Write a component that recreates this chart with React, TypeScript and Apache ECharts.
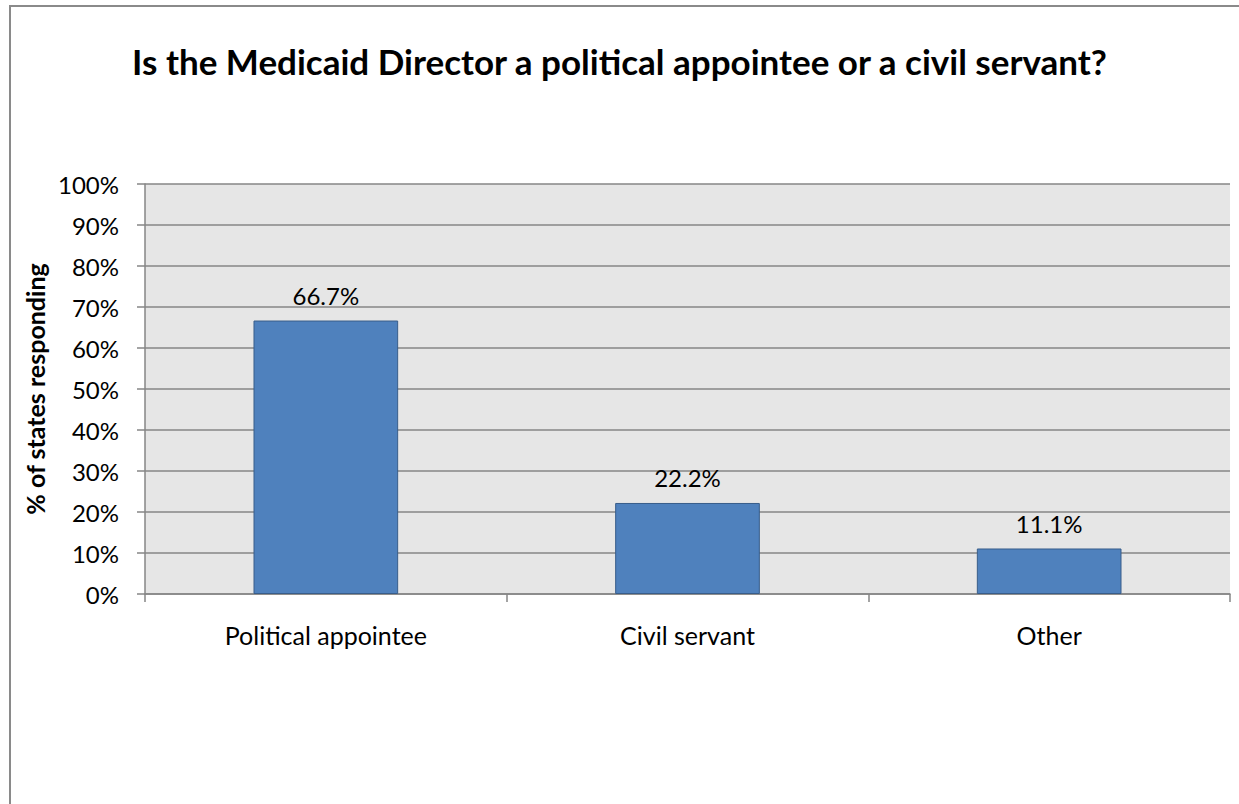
import React, { useEffect, useRef } from "react";
import * as echarts from "echarts";

const categories = ["Political appointee", "Civil servant", "Other"];
const values = [66.7, 22.2, 11.1];
const yTicks = [0, 10, 20, 30, 40, 50, 60, 70, 80, 90, 100];
const titleText = "Is the Medicaid Director a political appointee or a civil servant?";
const yAxisName = "% of states responding";

const FONT = "Lato, 'Open Sans', sans-serif";

export default function App() {
  const ref = useRef<HTMLDivElement>(null);
  useEffect(() => {
    const chart = echarts.init(ref.current!, null, { renderer: "svg" });
    chart.setOption({
      animation: false,
      backgroundColor: "#ffffff",
      graphic: [
        {
          type: "rect",
          shape: { x: 10, y: 6, width: 1300, height: 900 },
          style: { fill: "none", stroke: "#8a8a8a", lineWidth: 2 },
          silent: true,
        },
      ],
      title: {
        text: titleText,
        left: "center",
        top: 38,
        textStyle: { fontFamily: FONT, fontSize: 35, fontWeight: "bold", color: "#000" },
      },
      grid: { left: 145, top: 184, right: 9, bottom: 210, backgroundColor: "#e6e6e6", show: true, borderWidth: 0 },
      xAxis: {
        type: "category",
        data: categories,
        axisLine: { show: true, lineStyle: { color: "#868686", width: 1.5 } },
        axisTick: { show: true, length: 8, lineStyle: { color: "#868686", width: 1.5 } },
        axisLabel: { fontFamily: FONT, fontSize: 25, color: "#000", margin: 28 },
      },
      yAxis: {
        type: "value",
        min: 0,
        max: 100,
        interval: 10,
        name: yAxisName,
        nameLocation: "middle",
        nameGap: 93,
        nameTextStyle: { fontFamily: FONT, fontSize: 25, fontWeight: "bold", color: "#000" },
        axisLine: { show: true, lineStyle: { color: "#868686", width: 1.5 } },
        axisTick: { show: true, length: 8, lineStyle: { color: "#868686", width: 1.5 } },
        splitLine: { show: true, lineStyle: { color: "#868686", width: 1.5 } },
        axisLabel: {
          fontFamily: FONT,
          fontSize: 24,
          color: "#000",
          margin: 26,
          formatter: (v: number) => (yTicks.includes(v) ? v + "%" : ""),
        },
      },
      series: [
        {
          type: "bar",
          data: values,
          barWidth: "40%",
          itemStyle: { color: "#4f81bd", borderColor: "#385d8a", borderWidth: 1 },
          label: {
            show: true,
            position: "top",
            distance: 13,
            fontFamily: FONT,
            fontSize: 24,
            color: "#000",
            formatter: (p: any) => p.value.toFixed(1) + "%",
          },
        },
      ],
    });
    return () => chart.dispose();
  }, []);
  return <div ref={ref} style={{ width: 1239, height: 804, position: "absolute", left: 0, top: 0 }} />;
}
